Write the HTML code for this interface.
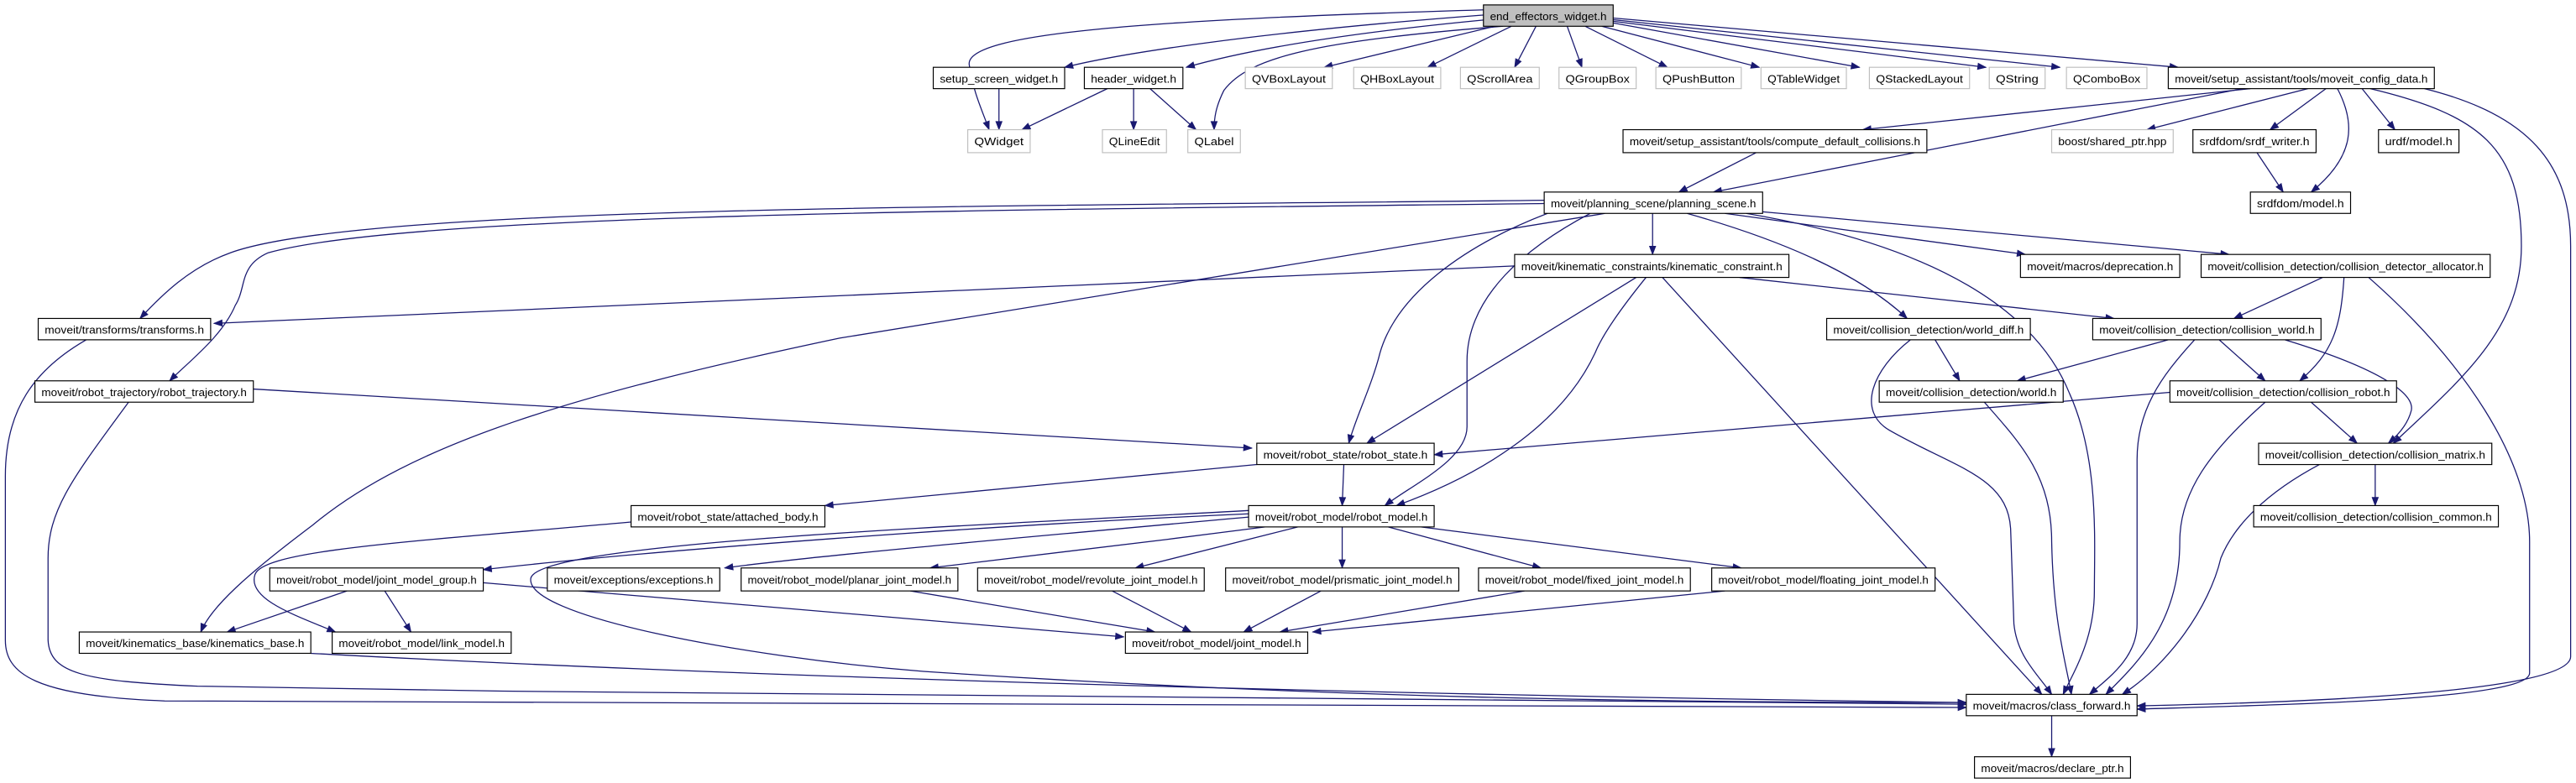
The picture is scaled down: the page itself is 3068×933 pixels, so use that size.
<!DOCTYPE html>
<html><head><meta charset="utf-8"><style>
html,body{margin:0;padding:0;background:#fff;}
svg{display:block;}
text{font-family:"Liberation Sans",sans-serif;font-size:6.8px;fill:#000;}
rect{stroke-width:0.6px;}
</style></head><body>
<svg id="g" width="3068" height="933" viewBox="0 0 1568 477" xmlns="http://www.w3.org/2000/svg">
<g id="edges" fill="none" stroke="#191970" stroke-width="0.65"></g>
<g id="heads" fill="#191970" stroke="#191970" stroke-width="0.4"></g>
<g id="nodes">
<rect x="903" y="3" width="79" height="13" fill="#bfbfbf" stroke="#000"/><text x="942.5" y="12.3" text-anchor="middle" textLength="71">end_effectors_widget.h</text>

<rect x="568" y="41" width="80" height="13" fill="#fff" stroke="#000"/><text x="608" y="50.3" text-anchor="middle" textLength="72">setup_screen_widget.h</text>
<rect x="660" y="41" width="60" height="13" fill="#fff" stroke="#000"/><text x="690" y="50.3" text-anchor="middle" textLength="52">header_widget.h</text>
<rect x="758" y="41" width="53" height="13" fill="#fff" stroke="#bfbfbf"/><text x="784.5" y="50.3" text-anchor="middle" textLength="45">QVBoxLayout</text>
<rect x="824" y="41" width="53" height="13" fill="#fff" stroke="#bfbfbf"/><text x="850.5" y="50.3" text-anchor="middle" textLength="45">QHBoxLayout</text>
<rect x="889" y="41" width="48" height="13" fill="#fff" stroke="#bfbfbf"/><text x="913" y="50.3" text-anchor="middle" textLength="40">QScrollArea</text>
<rect x="949" y="41" width="47" height="13" fill="#fff" stroke="#bfbfbf"/><text x="972.5" y="50.3" text-anchor="middle" textLength="39">QGroupBox</text>
<rect x="1008" y="41" width="52" height="13" fill="#fff" stroke="#bfbfbf"/><text x="1034" y="50.3" text-anchor="middle" textLength="44">QPushButton</text>
<rect x="1072" y="41" width="52" height="13" fill="#fff" stroke="#bfbfbf"/><text x="1098" y="50.3" text-anchor="middle" textLength="44">QTableWidget</text>
<rect x="1138" y="41" width="61" height="13" fill="#fff" stroke="#bfbfbf"/><text x="1168.5" y="50.3" text-anchor="middle" textLength="53">QStackedLayout</text>
<rect x="1211" y="41" width="34" height="13" fill="#fff" stroke="#bfbfbf"/><text x="1228" y="50.3" text-anchor="middle" textLength="26">QString</text>
<rect x="1258" y="41" width="49" height="13" fill="#fff" stroke="#bfbfbf"/><text x="1282.5" y="50.3" text-anchor="middle" textLength="41">QComboBox</text>
<rect x="1320" y="41" width="162" height="13" fill="#fff" stroke="#000"/><text x="1401" y="50.3" text-anchor="middle" textLength="154">moveit/setup_assistant/tools/moveit_config_data.h</text>

<rect x="589" y="79" width="38" height="14" fill="#fff" stroke="#bfbfbf"/><text x="608" y="88.5" text-anchor="middle" textLength="30">QWidget</text>
<rect x="671" y="79" width="39" height="14" fill="#fff" stroke="#bfbfbf"/><text x="690.5" y="88.5" text-anchor="middle" textLength="31">QLineEdit</text>
<rect x="723" y="79" width="32" height="14" fill="#fff" stroke="#bfbfbf"/><text x="739" y="88.5" text-anchor="middle" textLength="24">QLabel</text>
<rect x="988" y="79" width="185" height="14" fill="#fff" stroke="#000"/><text x="1080.5" y="88.5" text-anchor="middle" textLength="177">moveit/setup_assistant/tools/compute_default_collisions.h</text>
<rect x="1249" y="79" width="74" height="14" fill="#fff" stroke="#bfbfbf"/><text x="1286" y="88.5" text-anchor="middle" textLength="66">boost/shared_ptr.hpp</text>
<rect x="1335" y="79" width="75" height="14" fill="#fff" stroke="#000"/><text x="1372.5" y="88.5" text-anchor="middle" textLength="67">srdfdom/srdf_writer.h</text>
<rect x="1448" y="79" width="49" height="14" fill="#fff" stroke="#000"/><text x="1472.5" y="88.5" text-anchor="middle" textLength="41">urdf/model.h</text>

<rect x="940" y="117" width="133" height="13" fill="#fff" stroke="#000"/><text x="1006.5" y="126.3" text-anchor="middle" textLength="125">moveit/planning_scene/planning_scene.h</text>
<rect x="1370" y="117" width="61" height="13" fill="#fff" stroke="#000"/><text x="1400.5" y="126.3" text-anchor="middle" textLength="53">srdfdom/model.h</text>

<rect x="922" y="155" width="167" height="14" fill="#fff" stroke="#000"/><text x="1005.5" y="164.5" text-anchor="middle" textLength="159">moveit/kinematic_constraints/kinematic_constraint.h</text>
<rect x="1230" y="155" width="97" height="14" fill="#fff" stroke="#000"/><text x="1278.5" y="164.5" text-anchor="middle" textLength="89">moveit/macros/deprecation.h</text>
<rect x="1340" y="155" width="176" height="14" fill="#fff" stroke="#000"/><text x="1428" y="164.5" text-anchor="middle" textLength="168">moveit/collision_detection/collision_detector_allocator.h</text>

<rect x="23" y="194" width="105" height="13" fill="#fff" stroke="#000"/><text x="75.5" y="203.3" text-anchor="middle" textLength="97">moveit/transforms/transforms.h</text>
<rect x="1112" y="194" width="124" height="13" fill="#fff" stroke="#000"/><text x="1174" y="203.3" text-anchor="middle" textLength="116">moveit/collision_detection/world_diff.h</text>
<rect x="1274" y="194" width="139" height="13" fill="#fff" stroke="#000"/><text x="1343.5" y="203.3" text-anchor="middle" textLength="131">moveit/collision_detection/collision_world.h</text>

<rect x="21" y="232" width="133" height="13" fill="#fff" stroke="#000"/><text x="87.5" y="241.3" text-anchor="middle" textLength="125">moveit/robot_trajectory/robot_trajectory.h</text>
<rect x="1144" y="232" width="112" height="13" fill="#fff" stroke="#000"/><text x="1200" y="241.3" text-anchor="middle" textLength="104">moveit/collision_detection/world.h</text>
<rect x="1321" y="232" width="138" height="13" fill="#fff" stroke="#000"/><text x="1390" y="241.3" text-anchor="middle" textLength="130">moveit/collision_detection/collision_robot.h</text>

<rect x="765" y="270" width="108" height="13" fill="#fff" stroke="#000"/><text x="819" y="279.3" text-anchor="middle" textLength="100">moveit/robot_state/robot_state.h</text>
<rect x="1375" y="270" width="142" height="13" fill="#fff" stroke="#000"/><text x="1446" y="279.3" text-anchor="middle" textLength="134">moveit/collision_detection/collision_matrix.h</text>

<rect x="384" y="308" width="118" height="13" fill="#fff" stroke="#000"/><text x="443" y="317.3" text-anchor="middle" textLength="110">moveit/robot_state/attached_body.h</text>
<rect x="760" y="308" width="113" height="13" fill="#fff" stroke="#000"/><text x="816.5" y="317.3" text-anchor="middle" textLength="105">moveit/robot_model/robot_model.h</text>
<rect x="1372" y="308" width="149" height="13" fill="#fff" stroke="#000"/><text x="1446.5" y="317.3" text-anchor="middle" textLength="141">moveit/collision_detection/collision_common.h</text>

<rect x="164" y="346" width="130" height="14" fill="#fff" stroke="#000"/><text x="229" y="355.5" text-anchor="middle" textLength="122">moveit/robot_model/joint_model_group.h</text>
<rect x="333" y="346" width="105" height="14" fill="#fff" stroke="#000"/><text x="385.5" y="355.5" text-anchor="middle" textLength="97">moveit/exceptions/exceptions.h</text>
<rect x="451" y="346" width="132" height="14" fill="#fff" stroke="#000"/><text x="517" y="355.5" text-anchor="middle" textLength="124">moveit/robot_model/planar_joint_model.h</text>
<rect x="595" y="346" width="138" height="14" fill="#fff" stroke="#000"/><text x="664" y="355.5" text-anchor="middle" textLength="130">moveit/robot_model/revolute_joint_model.h</text>
<rect x="746" y="346" width="142" height="14" fill="#fff" stroke="#000"/><text x="817" y="355.5" text-anchor="middle" textLength="134">moveit/robot_model/prismatic_joint_model.h</text>
<rect x="900" y="346" width="129" height="14" fill="#fff" stroke="#000"/><text x="964.5" y="355.5" text-anchor="middle" textLength="121">moveit/robot_model/fixed_joint_model.h</text>
<rect x="1042" y="346" width="136" height="14" fill="#fff" stroke="#000"/><text x="1110" y="355.5" text-anchor="middle" textLength="128">moveit/robot_model/floating_joint_model.h</text>

<rect x="48" y="385" width="141" height="13" fill="#fff" stroke="#000"/><text x="118.5" y="394.3" text-anchor="middle" textLength="133">moveit/kinematics_base/kinematics_base.h</text>
<rect x="202" y="385" width="109" height="13" fill="#fff" stroke="#000"/><text x="256.5" y="394.3" text-anchor="middle" textLength="101">moveit/robot_model/link_model.h</text>
<rect x="685" y="385" width="111" height="13" fill="#fff" stroke="#000"/><text x="740.5" y="394.3" text-anchor="middle" textLength="103">moveit/robot_model/joint_model.h</text>

<rect x="1197" y="423" width="104" height="13" fill="#fff" stroke="#000"/><text x="1249" y="432.3" text-anchor="middle" textLength="96">moveit/macros/class_forward.h</text>
<rect x="1202" y="461" width="95" height="13" fill="#fff" stroke="#000"/><text x="1249.5" y="470.3" text-anchor="middle" textLength="87">moveit/macros/declare_ptr.h</text>
</g>
</svg>
<script>
var E=[
"M905,9 C760,20 680,33 648,41",
"M905,12 C800,22 750,33 722,41",
"M903,6 C700,12 585,20 590,40 C592,55 598,68 602,79",
"M915,16 C800,25 760,35 745,55 C740,65 739,72 739,79",
"M910,16 L806,41","M920,16 L869,41","M935,16 L922,41","M954,16 L963,41","M965,16 L1015,41",
"M975,16 L1071,41","M982,14 L1132,41","M982,13 L1209,41","M982,12 L1254,41","M982,11 L1326,41",
"M1370,54 L1134,79","M1365,54 L1043,117","M1405,54 L1307,79","M1416,54 L1382,79",
"M1423,54 C1434,75 1434,95 1407,117","M1438,54 L1458,79",
"M1443,54 C1510,70 1535,90 1535,150 C1535,200 1500,230 1457,270",
"M1476,54 C1540,70 1565,100 1565,150 L1565,400 C1565,422 1400,428 1301,430",
"M1374,93 L1390,117","M1069,93 L1022,117",
"M940,122 C600,126 220,125 140,154 C115,163 98,180 85,194",
"M940,124 C600,128 250,130 163,154 C145,162 150,175 143,186 C135,205 115,220 103,232",
"M1006,130 L1006,155",
"M1027,130 C1080,145 1130,165 1161,194",
"M1050,130 L1233,155","M1073,129 L1357,155",
"M1063,130 C1180,150 1240,190 1260,240 C1278,280 1275,330 1275,360 C1275,390 1262,410 1256,423",
"M942,130 C890,150 850,180 840,215 C835,235 825,255 821,270",
"M968,130 C930,150 893,180 893,220 L893,260 C893,280 860,295 843,308",
"M977,130 L511,206 C350,240 250,270 190,320 C150,350 128,370 122,385",
"M922,162 L130,197","M1059,169 L1287,194","M996,169 L832,270",
"M1002,169 C985,190 975,205 971,215 C950,260 900,290 850,308",
"M1012,169 L1243,423",
"M1178,207 L1193,232",
"M1163,207 C1140,225 1130,250 1150,262 C1190,285 1222,290 1224,322 L1226,380 C1228,400 1240,410 1249,423",
"M1414,169 L1360,194","M1427,169 C1425,200 1420,215 1400,232",
"M1442,169 C1500,220 1540,280 1540,330 L1540,410 C1540,426 1400,429 1301,432",
"M1320,207 L1228,232","M1351,207 L1379,232",
"M1391,207 C1450,225 1470,240 1468,250 C1466,258 1460,265 1454,270",
"M1336,207 C1315,230 1301,250 1301,280 L1301,380 C1301,400 1285,412 1272,423",
"M1208,245 C1230,270 1249,290 1249,330 C1250,380 1258,405 1261,423",
"M1321,239 L873,277","M1407,245 L1435,270",
"M1379,245 C1345,275 1327,300 1327,330 C1327,380 1300,405 1282,423",
"M1446,283 L1446,308",
"M1412,283 C1380,300 1360,320 1352,340 C1345,370 1320,405 1292,423",
"M154,237 L762,273",
"M78,245 C45,290 29,310 29,340 L29,390 C30,410 50,415 120,418 C500,425 900,427 1197,429",
"M54,206 C20,225 3,250 3,290 L3,390 C3,410 20,424 100,427 C500,431 900,431 1197,431",
"M189,398 C500,415 900,424 1197,428",
"M765,283 L502,308","M818,283 L817,308",
"M384,318 C250,330 160,335 155,350 C150,365 180,375 204,385",
"M760,313 C600,320 400,335 294,347",
"M760,315 C650,325 500,338 441,346",
"M770,321 C700,330 620,340 566,346",
"M790,321 L691,346","M817,321 L817,346","M845,321 L938,346","M865,321 L1060,346",
"M760,311 C600,320 330,330 323,352 C318,375 450,400 562,409 C800,425 1000,428 1197,428",
"M211,360 L138,385","M234,360 L250,385","M294,355 L684,388",
"M554,360 L703,385","M677,360 L725,385","M804,360 L757,385","M928,360 L779,385","M1050,360 L799,385",
"M1249,436 L1249,461",
"M608,54 L608,79","M674,54 L622,79","M690,54 L690,79","M700,54 L728,79"
];
var NS="http://www.w3.org/2000/svg",ge=document.getElementById("edges"),gh=document.getElementById("heads");
E.forEach(function(d){
 var n=d.match(/-?\d+(\.\d+)?/g).map(Number);var L=n.length;
 var x1=n[L-2],y1=n[L-1],x0=n[L-4],y0=n[L-3];
 var dx=x1-x0,dy=y1-y0,len=Math.sqrt(dx*dx+dy*dy)||1;dx/=len;dy/=len;
 var al=5,aw=1.9;var bx=x1-dx*al,by=y1-dy*al;
 var p=document.createElementNS(NS,"path");p.setAttribute("d",d);ge.appendChild(p);
 var h=document.createElementNS(NS,"polygon");
 h.setAttribute("points",x1+","+y1+" "+(bx-dy*aw)+","+(by+dx*aw)+" "+(bx+dy*aw)+","+(by-dx*aw));
 gh.appendChild(h);
});
Array.prototype.forEach.call(document.querySelectorAll("text"),function(t){t.setAttribute("lengthAdjust","spacingAndGlyphs");});
</script>
</body></html>
